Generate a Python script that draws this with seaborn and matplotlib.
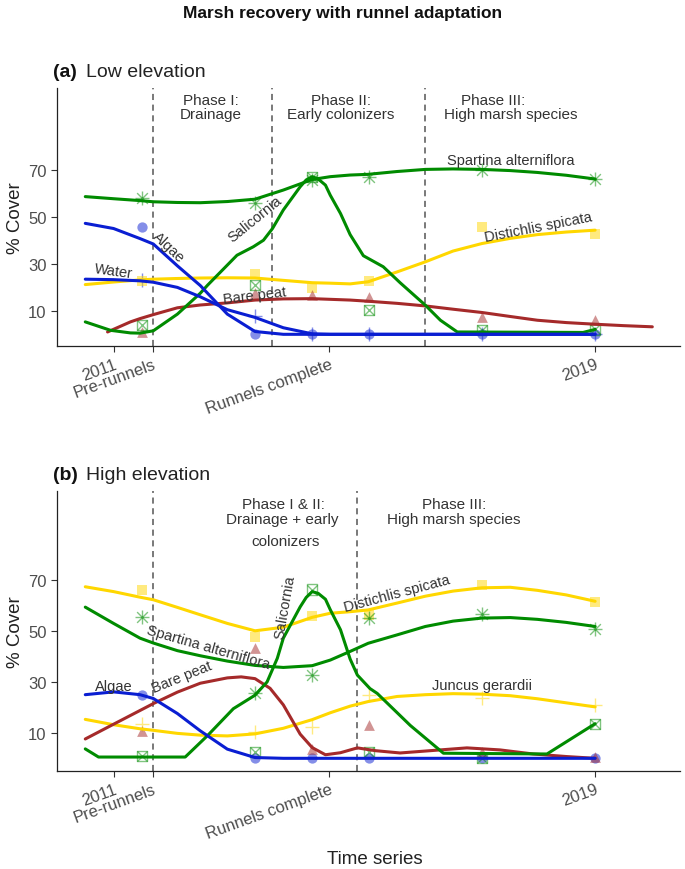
import numpy as np
import pandas as pd
import seaborn as sns
import matplotlib.pyplot as plt

# survey dates (decimal years) of the measured cover values
surveys = [2011.47, 2013.35, 2014.30, 2015.24, 2017.12, 2019.00]

fit_years = [2010.53, 2011.00, 2011.44, 2011.66, 2012.06, 2012.44, 2012.89,
             2013.35, 2013.82, 2014.30, 2014.60, 2014.93, 2015.23, 2015.71,
             2016.18, 2016.64, 2017.12, 2017.59, 2018.04, 2018.52, 2019.00]

# x axis ticks
tick_years = [2011.0, 2011.65, 2014.58, 2019.0]
tick_names = ['2011', 'Pre-runnels', 'Runnels complete', '2019']

# phase boundaries
low_phases = [2011.65, 2013.64, 2016.18]
high_phases = [2011.65, 2015.04]

# ---- (a) low elevation ----
low_spartina = [58.2, 56.1, 65.7, 67.2, 70.0, 66.2]
low_salicornia = [3.9, 21.0, 67.2, 10.3, 1.7, 2.1]
low_distichlis = [22.6, 25.9, 19.8, 22.6, 45.8, 42.7]
low_barepeat = [1.0, 17.4, 16.7, 16.0, 7.4, 6.0]
low_algae = [45.6, 0, 0, 0, 0, 0]
low_water = [23.1, 7.9, 0, 0, 0, 0]

low_spartina_fit = [58.7, 57.8, 57.0, 56.5, 56.2, 56.1, 56.6, 57.6, 61.5, 66.0, 67.2,
                    67.9, 68.2, 69.4, 70.3, 70.5, 70.3, 69.8, 69.0, 67.8, 66.2]
low_distichlis_fit = [21.2, 22.3, 23.2, 23.5, 23.8, 24.0, 24.1, 24.0, 23.0, 22.0, 21.8,
                      21.5, 22.4, 26.6, 30.9, 35.5, 38.7, 40.9, 42.5, 43.6, 44.4]
low_algae_fit = [47.3, 45.1, 40.8, 38.5, 29.2, 20.8, 8.6, 1.2, 0, 0, 0,
                 0, 0, 0, 0, 0, 0, 0, 0, 0, 0]
low_water_fit = [23.5, 23.3, 22.8, 22.2, 20.0, 16.0, 10.5, 7.2, 2.8, 0.2, 0,
                 0, 0, 0, 0, 0, 0, 0, 0, 0, 0]

low_salicornia_fit_x = [2010.53, 2010.95, 2011.28, 2011.44, 2011.66, 2012.06, 2012.44,
                        2012.56, 2013.05, 2013.32, 2013.49, 2013.64, 2013.82, 2014.10,
                        2014.20, 2014.30, 2014.40, 2014.52, 2014.60, 2014.77, 2014.93,
                        2015.15, 2015.48, 2015.76, 2016.18, 2016.43, 2016.71, 2018.80,
                        2019.00]
low_salicornia_fit = [5.3, 1.7, 0.6, 0.5, 1.5, 8.6, 17.5, 20.9, 33.7, 37.3, 40.1, 45.1,
                      53.0, 62.9, 65.8, 67.2, 66.2, 63.6, 59.3, 51.5, 42.5, 33.5, 28.8,
                      22.0, 12.4, 6.0, 1.0, 0.8, 2.1]

low_barepeat_fit_x = [2010.90, 2011.28, 2011.44, 2011.66, 2012.06, 2012.44, 2012.89,
                      2013.35, 2013.82, 2014.30, 2014.93, 2015.23, 2015.71, 2016.18,
                      2016.64, 2017.12, 2017.59, 2018.04, 2018.52, 2019.00, 2019.47,
                      2019.95]
low_barepeat_fit = [1.0, 5.3, 6.7, 8.4, 11.3, 12.5, 13.4, 14.6, 15.1, 15.2, 14.6, 14.1,
                    13.2, 12.1, 10.7, 9.3, 7.6, 6.0, 5.0, 4.3, 3.7, 3.2]

# ---- (b) high elevation ----
high_distichlis = [66.1, 47.6, 55.8, 56.4, 67.9, 61.4]
high_spartina = [55.4, 25.8, 32.9, 55.1, 56.8, 50.9]
high_juncus = [13.5, 10.3, 12.3, 25.0, 23.7, 20.8]
high_barepeat = [10.9, 43.2, 3.8, 13.2, 2.4, 0.4]
high_salicornia = [1.0, 2.4, 66.3, 2.4, 0, 13.6]
high_algae = [25.0, 0, 0, 0, 0, 0]

high_distichlis_fit = [67.4, 65.5, 63.3, 62.3, 59.3, 56.4, 53.0, 50.1, 51.5, 55.4, 57.0,
                       57.6, 58.3, 61.0, 63.7, 65.7, 67.0, 67.2, 66.0, 64.2, 61.7]
high_spartina_fit = [59.4, 53.0, 47.2, 45.3, 42.3, 40.3, 38.2, 36.5, 35.7, 36.4, 38.6,
                     42.0, 45.2, 48.5, 51.8, 53.9, 55.1, 55.3, 54.6, 53.4, 51.8]
high_juncus_fit = [15.3, 13.2, 11.6, 11.0, 9.8, 9.1, 8.8, 9.6, 11.8, 15.2, 17.9,
                   20.5, 22.3, 24.3, 25.0, 25.4, 25.2, 24.6, 23.4, 21.8, 20.2]
high_algae_fit = [25.0, 26.1, 25.0, 23.5, 17.6, 10.8, 3.6, 0.3, 0, 0, 0,
                  0, 0, 0, 0, 0, 0, 0, 0, 0, 0]

high_barepeat_fit_x = [2010.53, 2011.00, 2011.44, 2011.66, 2012.06, 2012.44, 2012.89,
                       2013.12, 2013.35, 2013.60, 2013.82, 2014.10, 2014.30, 2014.52,
                       2014.77, 2015.05, 2015.35, 2015.76, 2016.26, 2016.87, 2017.42,
                       2017.97, 2018.52, 2019.00]
high_barepeat_fit = [7.6, 13.4, 18.8, 21.5, 26.0, 29.5, 31.6, 32.0, 31.3, 27.5, 21.0,
                     9.5, 4.2, 1.4, 2.2, 4.1, 3.0, 2.1, 3.0, 4.1, 3.3, 1.7, 0.7, 0.0]

high_salicornia_fit_x = [2010.53, 2010.75, 2012.19, 2012.56, 2012.99, 2013.35, 2013.55,
                         2013.72, 2013.82, 2014.10, 2014.20, 2014.30, 2014.40, 2014.52,
                         2014.60, 2014.77, 2014.93, 2015.05, 2015.26, 2015.38, 2015.93,
                         2016.48, 2018.20, 2019.00]
high_salicornia_fit = [3.7, 0.5, 0.5, 8.9, 19.5, 24.8, 30.0, 39.3, 47.2, 59.5, 63.2,
                       65.5, 64.8, 62.5, 58.4, 50.5, 39.0, 32.7, 27.4, 25.5, 12.9, 2.0,
                       1.7, 13.6]

GREEN = '#008B00'
BLUE = '#0A1ED2'
RED = '#A52A2A'
GOLD = '#FFD700'
TXT = '#333333'

sns.set_theme(style='ticks')
plt.rcParams['font.family'] = ['Liberation Sans', 'DejaVu Sans']

fig = plt.figure(figsize=(6.85, 8.7), dpi=100)
ax_low = fig.add_axes([0.0832, 0.6011, 0.9095, 0.2966])
ax_high = fig.add_axes([0.0832, 0.1126, 0.9095, 0.3218])


def points(ax, vals, shape, color):
    kw = dict(x=surveys, y=vals, ax=ax, alpha=0.5, legend=False)
    if shape == 'circle':
        sns.scatterplot(marker='o', color=color, s=55, linewidth=0, **kw)
    elif shape == 'triangle':
        sns.scatterplot(marker='^', color=color, s=60, linewidth=0, **kw)
    elif shape == 'square':
        sns.scatterplot(marker='s', color=color, s=55, linewidth=0, **kw)
    elif shape == 'plus':
        sns.scatterplot(marker='+', color=color, s=110, linewidth=1, **kw)
    elif shape == 'star':
        sns.scatterplot(marker='+', color=color, s=95, linewidth=1, **kw)
        sns.scatterplot(marker='x', color=color, s=60, linewidth=1, **kw)
    elif shape == 'boxx':
        sns.scatterplot(marker='s', facecolor='none', edgecolor=color, s=55, linewidth=1, **kw)
        sns.scatterplot(marker='x', color=color, s=55, linewidth=1, **kw)


def curve(ax, xs, ys, color):
    sns.lineplot(x=xs, y=ys, ax=ax, color=color, linewidth=2.2, estimator=None,
                 sort=False, legend=False)


def style_axis(ax):
    ax.set_xlim(2010.06, 2020.41)
    ax.set_ylim(-5, 105)
    ax.set_yticks([10, 30, 50, 70])
    ax.set_xticks(tick_years)
    ax.set_xticklabels(tick_names, rotation=20, ha='right', rotation_mode='anchor')
    ax.tick_params(labelsize=12, labelcolor='#4d4d4d', length=4, width=0.8, color='#333333')
    sns.despine(ax=ax)
    for s in ['left', 'bottom']:
        ax.spines[s].set_color('#222222')
        ax.spines[s].set_linewidth(0.9)
    ax.set_xlabel('')
    ax.set_ylabel('% Cover', fontsize=13.5, color='#222222')
    ax.yaxis.set_label_coords(-0.053, 0.5)


# ---- panel (a) ----
ax = ax_low
for xv in low_phases:
    ax.axvline(xv, color='#555555', ls=(0, (4, 3)), lw=1.1, zorder=0)
points(ax, low_water, 'plus', BLUE)
points(ax, low_algae, 'circle', BLUE)
points(ax, low_distichlis, 'square', GOLD)
points(ax, low_barepeat, 'triangle', RED)
points(ax, low_salicornia, 'boxx', GREEN)
points(ax, low_spartina, 'star', GREEN)
curve(ax, fit_years, low_distichlis_fit, GOLD)
curve(ax, low_barepeat_fit_x, low_barepeat_fit, RED)
curve(ax, low_salicornia_fit_x, low_salicornia_fit, GREEN)
curve(ax, fit_years, low_spartina_fit, GREEN)
curve(ax, fit_years, low_water_fit, BLUE)
curve(ax, fit_years, low_algae_fit, BLUE)
style_axis(ax)

lab = dict(fontsize=10.5, color=TXT, ha='center', va='center')
ax.text(2011.0, 27.3, 'Water', rotation=-8, **lab)
ax.text(2011.91, 37.3, 'Algae', rotation=-43, **lab)
ax.text(2013.35, 49.4, 'Salicornia', rotation=39, **lab)
ax.text(2013.35, 16.6, 'Bare peat', rotation=7, **lab)
ax.text(2017.59, 74.3, 'Spartina alterniflora', rotation=0, **lab)
ax.text(2018.05, 45.8, 'Distichlis spicata', rotation=11, **lab)

ph = dict(fontsize=11, color=TXT, ha='center', va='center')
ax.text(2012.61, 99.9, 'Phase I:', **ph)
ax.text(2012.61, 93.8, 'Drainage', **ph)
ax.text(2014.77, 99.9, 'Phase II:', **ph)
ax.text(2014.77, 93.8, 'Early colonizers', **ph)
ax.text(2017.31, 99.9, 'Phase III:', **ph)
ax.text(2017.59, 93.8, 'High marsh species', **ph)

# ---- panel (b) ----
ax = ax_high
for xv in high_phases:
    ax.axvline(xv, color='#555555', ls=(0, (4, 3)), lw=1.1, zorder=0)
points(ax, high_juncus, 'plus', GOLD)
points(ax, high_algae, 'circle', BLUE)
points(ax, high_distichlis, 'square', GOLD)
points(ax, high_barepeat, 'triangle', RED)
points(ax, high_salicornia, 'boxx', GREEN)
points(ax, high_spartina, 'star', GREEN)
curve(ax, fit_years, high_distichlis_fit, GOLD)
curve(ax, fit_years, high_juncus_fit, GOLD)
curve(ax, fit_years, high_spartina_fit, GREEN)
curve(ax, high_barepeat_fit_x, high_barepeat_fit, RED)
curve(ax, high_salicornia_fit_x, high_salicornia_fit, GREEN)
curve(ax, fit_years, high_algae_fit, BLUE)
style_axis(ax)

ax.text(2011.0, 28.3, 'Algae', rotation=0, **lab)
ax.text(2012.14, 32.0, 'Bare peat', rotation=22, **lab)
ax.text(2012.58, 43.9, 'Spartina alterniflora', rotation=-16, **lab)
ax.text(2013.85, 59.7, 'Salicornia', rotation=80, **lab)
ax.text(2015.71, 65.0, 'Distichlis spicata', rotation=15, **lab)
ax.text(2017.12, 28.7, 'Juncus gerardii', rotation=0, **lab)

ax.text(2013.82, 99.9, 'Phase I & II:', **ph)
ax.text(2013.80, 94.0, 'Drainage + early', **ph)
ax.text(2013.85, 85.4, 'colonizers', **ph)
ax.text(2016.65, 99.9, 'Phase III:', **ph)
ax.text(2016.65, 94.0, 'High marsh species', **ph)

# ---- titles ----
fig.text(0.5, 0.985, 'Marsh recovery with runnel adaptation', ha='center', va='center',
         fontsize=12.5, fontweight='bold', color='#111111')
fig.text(0.0774, 0.917, '(a)', ha='left', va='center', fontsize=14, fontweight='bold', color='#111111')
fig.text(0.1255, 0.917, 'Low elevation', ha='left', va='center', fontsize=14, color='#222222')
fig.text(0.0774, 0.454, '(b)', ha='left', va='center', fontsize=14, fontweight='bold', color='#111111')
fig.text(0.1255, 0.454, 'High elevation', ha='left', va='center', fontsize=14, color='#222222')
fig.text(0.547, 0.0126, 'Time series', ha='center', va='center', fontsize=13.5, color='#222222')

fig.savefig('out.png', dpi=100, facecolor='white')
